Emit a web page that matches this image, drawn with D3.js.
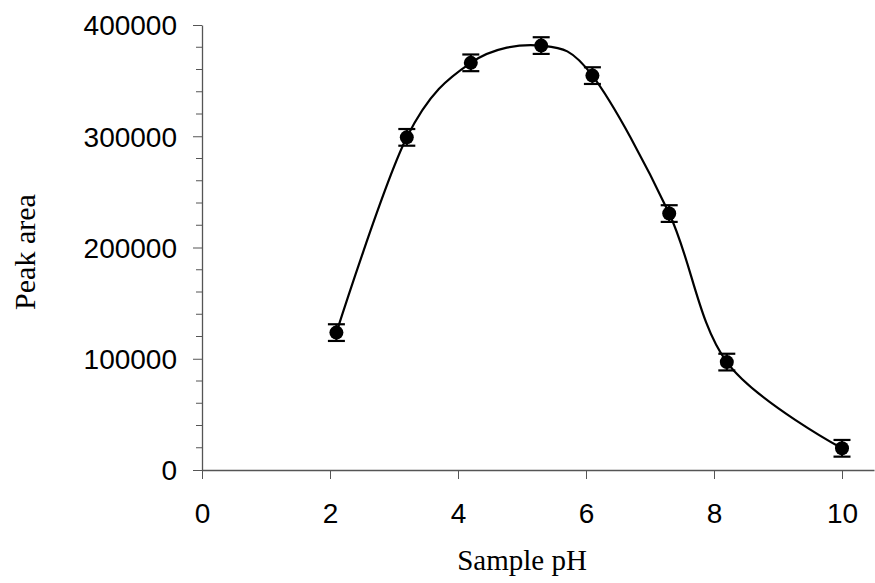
<!DOCTYPE html>
<html>
<head>
<meta charset="utf-8">
<script src="https://cdn.jsdelivr.net/npm/d3@7"></script>
<style>
  body { margin: 0; background: #fff; }
  .tick text { font-family: "Liberation Sans", Arial, sans-serif; }
</style>
</head>
<body>
<svg id="chart" width="875" height="583"></svg>
<script>
// sample pH vs peak area, error bars are +/- err
const ph = [2.1, 3.2, 4.2, 5.3, 6.1, 7.3, 8.2, 10];
const area = [123500, 299000, 366000, 381500, 354500, 230500, 97000, 19500];
const err = [7500, 7500, 7500, 7500, 7500, 7500, 7500, 7500];
const xTicks = [0, 2, 4, 6, 8, 10];
const yTicks = [0, 100000, 200000, 300000, 400000];

const data = ph.map((p, i) => ({ x: p, y: area[i], e: err[i] }));

const svg = d3.select("#chart");
const mLeft = 202, mBottom = 470, mTop = 25;

const x = d3.scaleLinear().domain([0, 10.5]).range([mLeft, mLeft + 672]);
const y = d3.scaleLinear().domain([0, 400000]).range([mBottom, mTop]);

// minor y ticks every 20000
const yMinor = d3.range(0, 400001, 20000).filter(v => v % 100000 !== 0);

svg.append("g")
    .attr("transform", `translate(${mLeft},0)`)
    .selectAll("line")
    .data(yMinor)
    .join("line")
    .attr("x1", -6).attr("x2", 0)
    .attr("y1", d => y(d)).attr("y2", d => y(d))
    .attr("stroke", "#555").attr("stroke-width", 1);

const xAxis = svg.append("g")
    .attr("transform", `translate(0,${mBottom})`)
    .call(d3.axisBottom(x).tickValues(xTicks).tickSize(9).tickPadding(22).tickSizeOuter(0));

const yAxis = svg.append("g")
    .attr("transform", `translate(${mLeft},0)`)
    .call(d3.axisLeft(y).tickValues(yTicks).tickSize(9).tickPadding(16).tickSizeOuter(0)
        .tickFormat(d3.format("d")));

[xAxis, yAxis].forEach(g => {
    g.select(".domain").attr("stroke", "#555").attr("stroke-width", 1.3);
    g.selectAll(".tick line").attr("stroke", "#555").attr("stroke-width", 1);
    g.selectAll(".tick text").attr("fill", "#000").attr("font-size", 28);
});
yAxis.selectAll(".tick text").attr("dy", "0.35em");
xAxis.selectAll(".tick text").attr("dy", "0.78em");

// smoothed line through the points
const line = d3.line()
    .x(d => x(d.x))
    .y(d => y(d.y))
    .curve(d3.curveCardinal.tension(0));

svg.append("path")
    .datum(data)
    .attr("d", line)
    .attr("fill", "none")
    .attr("stroke", "#000")
    .attr("stroke-width", 2.2);

// error bars
const bars = svg.append("g").attr("stroke", "#000").attr("stroke-width", 2.2);
data.forEach(d => {
    bars.append("line")
        .attr("x1", x(d.x)).attr("x2", x(d.x))
        .attr("y1", y(d.y - d.e)).attr("y2", y(d.y + d.e));
    [d.y - d.e, d.y + d.e].forEach(v => {
        bars.append("line")
            .attr("x1", x(d.x) - 8.5).attr("x2", x(d.x) + 8.5)
            .attr("y1", y(v)).attr("y2", y(v));
    });
});

svg.append("g")
    .selectAll("circle")
    .data(data)
    .join("circle")
    .attr("cx", d => x(d.x))
    .attr("cy", d => y(d.y))
    .attr("r", 7)
    .attr("fill", "#000");

// axis titles
svg.append("text")
    .attr("x", 522).attr("y", 570)
    .attr("text-anchor", "middle")
    .attr("font-family", "'Liberation Serif', 'Times New Roman', serif")
    .attr("font-size", 29)
    .text("Sample pH");

svg.append("text")
    .attr("transform", "translate(35,252) rotate(-90)")
    .attr("text-anchor", "middle")
    .attr("font-family", "'Liberation Serif', 'Times New Roman', serif")
    .attr("font-size", 30)
    .text("Peak area");
</script>
</body>
</html>
